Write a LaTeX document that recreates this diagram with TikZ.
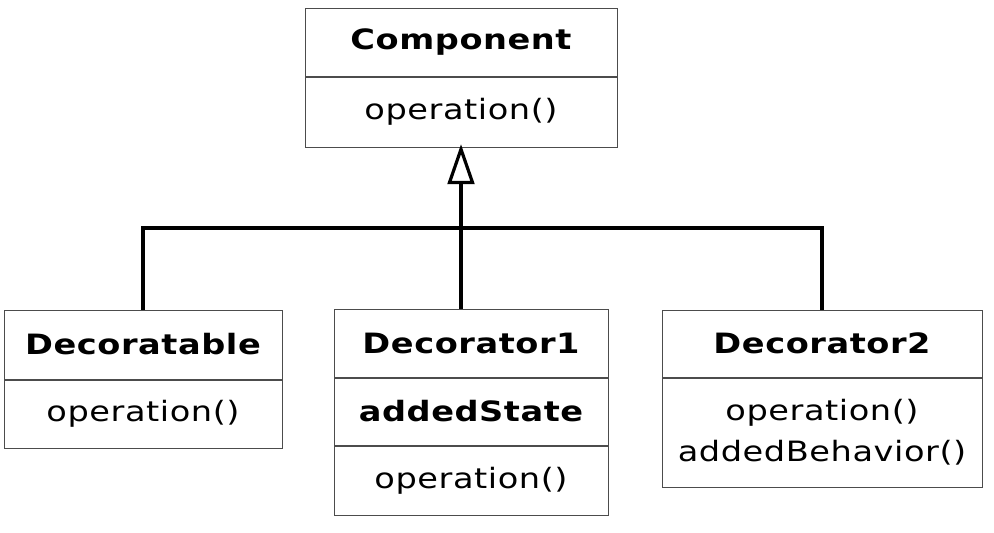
\documentclass[tikz,border=0pt]{standalone}
\usepackage{fontspec}
\setmainfont{DejaVu Sans}[FakeStretch=1.2, LetterSpace=2]
\usetikzlibrary{arrows.meta,positioning}

\begin{document}
\begin{tikzpicture}[x=0.75pt, y=-0.75pt,
% common options for the class boxes:
every node/.style = {font=\fontsize{21}{31}\selectfont},
classname/.style = {draw=black!70, line width=0.75pt, font=\fontsize{21}{31}\selectfont\bfseries,
            align=center, inner sep=0},
member/.style = {draw=black!70, line width=0.75pt, align=center, inner sep=0},
% common options for the inheritance lines:
inherit/.style = {line width=2.4pt}]
\useasboundingbox[fill=white] (0,0) rectangle (994,532);
\node[classname, minimum width=234pt, minimum height=51pt] (compname) at (461,42) {Component};
\node[member, minimum width=234pt, minimum height=52.5pt, below=0pt of compname] (compops) {operation()};
\node[classname, minimum width=208.5pt, minimum height=51.75pt] (basename) at (143,344.5) {Decoratable};
\node[member, minimum width=208.5pt, minimum height=51pt, below=0pt of basename] (baseops) {operation()};
\node[classname, minimum width=205.5pt, minimum height=51pt] (deconename) at (471,343) {Decorator1};
\node[classname, minimum width=205.5pt, minimum height=50.25pt, below=0pt of deconename] (deconestate) {addedState};
\node[member, minimum width=205.5pt, minimum height=51.75pt, below=0pt of deconestate] (deconeops) {operation()};
\node[classname, minimum width=240pt, minimum height=50.25pt] (dectwoname) at (822,343.5) {Decorator2};
\node[member, minimum width=240pt, minimum height=81.75pt, below=0pt of dectwoname] (dectwoops) {operation()\\addedBehavior()};
\coordinate (join) at (461,228);
\draw[inherit] (basename.north) |- (join) -| (dectwoname.north);
\draw[inherit] (deconename.north -| compops.south) -- (join);
\draw[inherit, shorten >=-2.5pt, -{Triangle[open, length=30pt, width=20pt]}] (join) -- (compops.south);
\end{tikzpicture}
\end{document}
